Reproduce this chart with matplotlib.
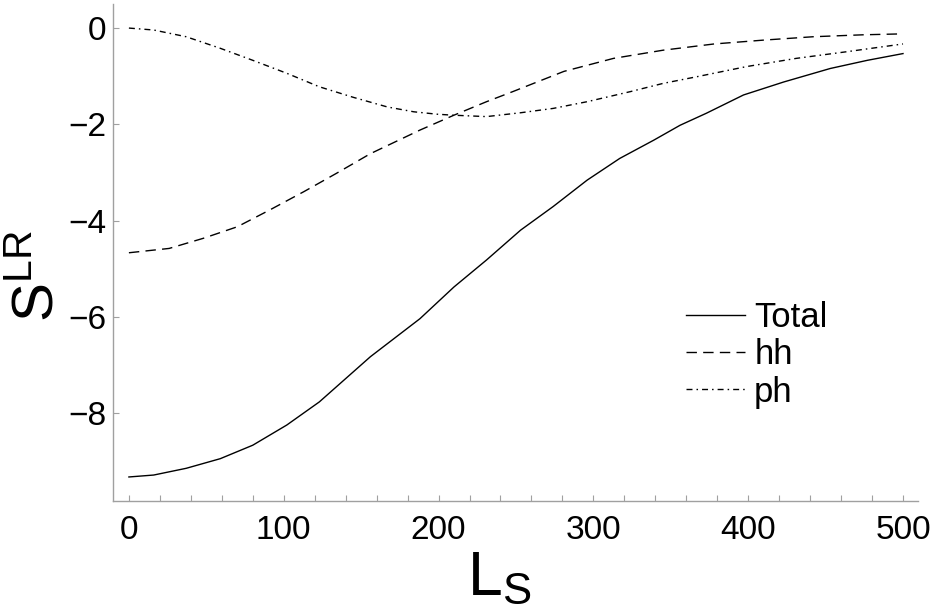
import matplotlib
matplotlib.use("Agg")
import matplotlib.pyplot as plt
import numpy as np

plt.rcParams['font.family'] = ['Liberation Sans', 'DejaVu Sans']
plt.rcParams['mathtext.fontset'] = 'custom'
plt.rcParams['mathtext.rm'] = 'Liberation Sans'

# values
x_total = [0, 16, 37, 59, 80, 102, 123, 156, 188, 210, 231, 253, 274, 296, 317, 339, 356, 373,
           397, 423, 453, 477, 500]
y_total = [-9.33, -9.29, -9.15, -8.95, -8.67, -8.25, -7.77, -6.83, -6.04, -5.38, -4.82, -4.20,
           -3.71, -3.16, -2.71, -2.33, -2.02, -1.77, -1.39, -1.12, -0.84, -0.67, -0.53]

x_hh = [0, 26, 48, 70, 91, 113, 134, 156, 188, 210, 231, 248, 281, 313, 345, 378, 410, 442, 474, 500]
y_hh = [-4.67, -4.58, -4.37, -4.13, -3.78, -3.40, -3.02, -2.61, -2.12, -1.81, -1.53, -1.32,
        -0.90, -0.63, -0.46, -0.33, -0.25, -0.18, -0.14, -0.12]

x_ph = [0, 16, 37, 59, 80, 102, 123, 145, 167, 184, 199, 209, 231, 253, 274, 296, 324, 345, 367, 399,
        431, 464, 500]
y_ph = [0.0, -0.04, -0.18, -0.42, -0.67, -0.94, -1.22, -1.44, -1.64, -1.74, -1.79, -1.81, -1.84, -1.76,
        -1.67, -1.53, -1.32, -1.15, -1.01, -0.80, -0.63, -0.49, -0.33]

xticks = [0, 100, 200, 300, 400, 500]
yticks = [0, -2, -4, -6, -8]

fig = plt.figure(figsize=(9.32, 6.09), dpi=100)
ax = fig.add_axes([0.1212, 0.1773, 0.8638, 0.8161])

ax.plot(x_total, y_total, color='black', lw=1.0, label='Total')
ax.plot(x_hh, y_hh, color='black', lw=1.0, dashes=(7.5, 4.5), label='hh')
ax.plot(x_ph, y_ph, color='black', lw=1.0, dashes=(4.3, 2.9, 1.1, 2.9), label='ph')

ax.set_xlim(-10.3, 509.7)
ax.set_ylim(-9.83, 0.5)

for s in ['top', 'right']:
    ax.spines[s].set_visible(False)
for s in ['left', 'bottom']:
    ax.spines[s].set_color('#a0a0a0')
    ax.spines[s].set_linewidth(1.0)

ax.set_xticks(xticks)
ax.set_xticks(np.arange(0, 501, 20), minor=True)
ax.set_yticks(yticks)
ax.tick_params(axis='both', which='both', direction='in', color='#a0a0a0', width=0.8,
               labelsize=24, labelcolor='black')
ax.tick_params(axis='x', which='both', length=4, pad=10)
ax.tick_params(axis='y', which='major', length=4, pad=5)

ax.set_xlabel(r'$\mathregular{L_S}$', fontsize=45)
ax.xaxis.set_label_coords(0.48, -0.097)
ax.set_ylabel(r'$\mathregular{S^{LR}}$', fontsize=42)
ax.yaxis.set_label_coords(-0.06, 0.452)

ax.legend(loc='upper left', bbox_to_anchor=(0.712, 0.402), frameon=False, fontsize=25,
          handlelength=1.7, handletextpad=0.26, labelspacing=0.12, borderpad=0, borderaxespad=0)

fig.savefig('out.png', dpi=100)
